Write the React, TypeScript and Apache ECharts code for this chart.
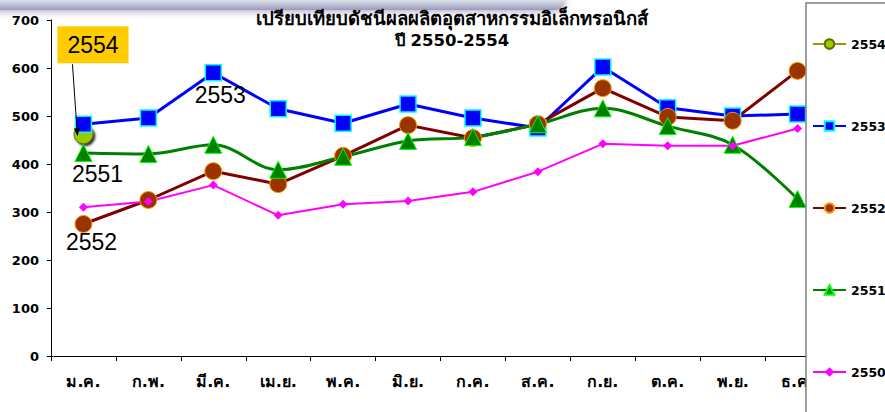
import React, { useEffect, useRef } from "react";
import * as echarts from "echarts";

const categories = ["ม.ค.", "ก.พ.", "มี.ค.", "เม.ย.", "พ.ค.", "มิ.ย.", "ก.ค.", "ส.ค.", "ก.ย.", "ต.ค.", "พ.ย.", "ธ.ค."];
const seriesNames = ["2554", "2553", "2552", "2551", "2550"];
const v2554: (number | null)[] = [462, null, null, null, null, null, null, null, null, null, null, null];
const v2553 = [483, 496, 590, 515, 485, 525, 496, 475, 602, 517, 500, 504];
const v2552 = [275, 325, 385, 358, 417, 481, 454, 483, 558, 498, 490, 594];
const v2551 = [423, 421, 440, 388, 415, 448, 456, 483, 516, 479, 440, 327];
const v2550 = [310, 322, 356, 293, 316, 323, 342, 384, 442, 438, 438, 474];
const yTicks = [0, 100, 200, 300, 400, 500, 600, 700];
const titleLines = ["เปรียบเทียบดัชนีผลผลิตอุตสาหกรรมอิเล็กทรอนิกส์", "ปี 2550-2554"];

const THAI_FONT = "Tahoma, 'DejaVu Sans', 'Noto Sans', sans-serif";
const LABEL_FONT = "Arial, 'Liberation Sans', sans-serif";

const labelStyle = {
  show: true,
  position: "inside" as const,
  fontFamily: LABEL_FONT,
  fontSize: 23,
  color: "#000",
};

export default function App() {
  const ref = useRef<HTMLDivElement>(null);
  useEffect(() => {
    if (!ref.current) return;
    const chart = echarts.init(ref.current, null, { renderer: "svg" });
    const withLabel = (vals: (number | null)[], idx: number, text: string, offset: number[], extra: any = {}) =>
      vals.map((v, i) =>
        i === idx ? { value: v, label: { ...labelStyle, formatter: text, offset, ...extra } } : v
      );
    chart.setOption({
      animation: false,
      backgroundColor: "#fff",
      grid: { left: 51, right: 55, top: 20, bottom: 56 },
      xAxis: {
        type: "category",
        data: categories,
        boundaryGap: true,
        axisLine: { lineStyle: { color: "#000", width: 1 } },
        axisTick: { show: true, length: 5, lineStyle: { color: "#000" } },
        axisLabel: { color: "#000", fontFamily: THAI_FONT, fontWeight: "bold", fontSize: 16, margin: 17 },
        splitLine: { show: false },
      },
      yAxis: {
        type: "value",
        min: yTicks[0],
        max: yTicks[yTicks.length - 1],
        interval: 100,
        axisLine: { show: true, lineStyle: { color: "#000", width: 1 } },
        axisTick: { show: true, length: 4, lineStyle: { color: "#000" } },
        axisLabel: { color: "#000", fontFamily: THAI_FONT, fontWeight: "bold", fontSize: 13, margin: 12 },
        splitLine: { show: false },
      },
      legend: {
        orient: "vertical",
        left: 812,
        top: 37,
        z: 6,
        padding: 0,
        itemWidth: 33,
        itemHeight: 12,
        itemGap: 68,
        data: seriesNames,
        textStyle: { color: "#000", fontFamily: THAI_FONT, fontWeight: "bold", fontSize: 12.5, lineHeight: 14 },
      },
      series: [
        {
          name: seriesNames[0],
          type: "line",
          data: withLabel(v2554, 0, "2554", [9.5, -89.5], {
            backgroundColor: "#FFCC00",
            padding: [8, 10, 6, 10],
          }),
          symbol: "circle",
          symbolSize: 19,
          lineStyle: { color: "#999900", width: 3 },
          itemStyle: {
            color: "#99CC00",
            borderColor: "#666600",
            borderWidth: 1,
            shadowColor: "rgba(0,0,0,0.8)",
            shadowOffsetX: 2,
            shadowOffsetY: 2,
            shadowBlur: 2,
          },
        },
        {
          name: seriesNames[1],
          type: "line",
          data: withLabel(v2553, 2, "2553", [7, 22]),
          symbol: "rect",
          symbolSize: 16,
          lineStyle: { color: "#0000FF", width: 3 },
          itemStyle: { color: "#0000FF", borderColor: "#00FFFF", borderWidth: 1.5 },
        },
        {
          name: seriesNames[2],
          type: "line",
          data: withLabel(v2552, 0, "2552", [8, 18]),
          symbol: "circle",
          symbolSize: 17,
          lineStyle: { color: "#800000", width: 3 },
          itemStyle: { color: "#993300", borderColor: "#FF9900", borderWidth: 1 },
        },
        {
          name: seriesNames[3],
          type: "line",
          data: withLabel(v2551, 0, "2551", [14, 21]),
          smooth: 0.35,
          symbol: "triangle",
          symbolSize: 17,
          lineStyle: { color: "#008000", width: 3 },
          itemStyle: { color: "#008000", borderColor: "#00FF00", borderWidth: 1 },
        },
        {
          name: seriesNames[4],
          type: "line",
          data: v2550,
          symbol: "diamond",
          symbolSize: 9,
          lineStyle: { color: "#FF00FF", width: 2 },
          itemStyle: { color: "#FF00FF", borderColor: "#FF00FF", borderWidth: 0 },
        },
      ],
    });

    const p = chart.convertToPixel({ seriesIndex: 0 }, [0, v2554[0] as number]) as number[];
    const start = [p[0] - 11, p[1] - 70];
    const end = [p[0] - 6, p[1] + 2];
    const dx = end[0] - start[0];
    const dy = end[1] - start[1];
    const len = Math.sqrt(dx * dx + dy * dy);
    const ux = dx / len;
    const uy = dy / len;
    const headL = 8;
    const headW = 3;
    const base = [end[0] - ux * headL, end[1] - uy * headL];
    const arrowHead = [
      end,
      [base[0] - uy * headW, base[1] + ux * headW],
      [base[0] + uy * headW, base[1] - ux * headW],
    ];

    chart.setOption({
      graphic: [
        {
          type: "rect",
          z: 7,
          shape: { x: -20, y: -12, width: 585, height: 22, r: 10 },
          style: {
            fill: new echarts.graphic.LinearGradient(0, 0, 0, 1, [
              { offset: 0, color: "#f4fbfc" },
              { offset: 0.5, color: "#dcecf0" },
              { offset: 0.8, color: "#bcb9d3" },
              { offset: 1, color: "#9c98bc" },
            ]),
            shadowBlur: 7,
            shadowColor: "rgba(90,80,140,0.45)",
            shadowOffsetY: 2,
          },
        },
        {
          type: "rect",
          z: 5,
          shape: { x: 806, y: 3, width: 200, height: 500 },
          style: { fill: "#fff", stroke: "#808080", lineWidth: 1.5 },
        },
        {
          type: "text",
          z: 8,
          x: 452,
          y: 18,
          style: {
            text: titleLines[0],
            align: "center",
            verticalAlign: "middle",
            fontFamily: THAI_FONT,
            fontWeight: "bold",
            fontSize: 18.5,
            fill: "#000",
          },
        },
        {
          type: "text",
          z: 8,
          x: 452,
          y: 40,
          style: {
            text: titleLines[1],
            align: "center",
            verticalAlign: "middle",
            fontFamily: THAI_FONT,
            fontWeight: "bold",
            fontSize: 16.5,
            fill: "#000",
          },
        },
        {
          type: "line",
          z: 8,
          shape: { x1: start[0], y1: start[1], x2: base[0], y2: base[1] },
          style: { stroke: "#000", lineWidth: 1 },
        },
        {
          type: "polygon",
          z: 8,
          shape: { points: arrowHead },
          style: { fill: "#000" },
        },
      ],
    });

    return () => chart.dispose();
  }, []);
  return (
    <div
      ref={ref}
      style={{ position: "absolute", left: 0, top: 0, width: 885, height: 412 }}
    />
  );
}
